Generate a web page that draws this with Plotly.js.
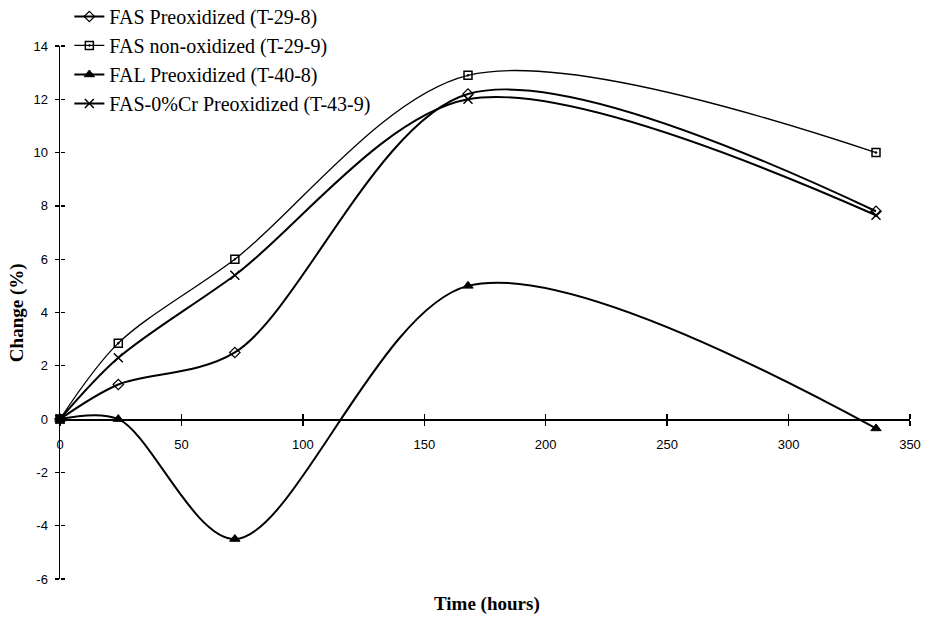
<!DOCTYPE html>
<html>
<head>
<meta charset="utf-8">
<script src="https://cdn.plot.ly/plotly-3.0.1.min.js"></script>
<style>html,body{margin:0;padding:0;background:#fff;}#chart{width:925px;height:621px;}</style>
</head>
<body>
<div id="chart"></div>
<script>
const timeHours = [0, 24, 72, 168, 336];
const fasPreox = [0, 1.3, 2.5, 12.2, 7.8];
const fasNonOx = [0, 2.85, 6.0, 12.9, 10.0];
const falPreox = [0, 0, -4.5, 5.0, -0.35];
const fas0CrPreox = [0, 2.3, 5.4, 12.0, 7.65];
const seriesNames = ["FAS Preoxidized (T-29-8)", "FAS non-oxidized (T-29-9)", "FAL Preoxidized (T-40-8)", "FAS-0%Cr Preoxidized (T-43-9)"];
const xTicks = [0, 50, 100, 150, 200, 250, 300, 350];
const yTicks = [-6, -4, -2, 0, 2, 4, 6, 8, 10, 12, 14];

function tr(y, name, sym, size, lw, mlw) {
  return {
    x: timeHours, y: y, name: name, type: 'scatter', mode: 'lines+markers',
    line: {color: '#000', width: lw, shape: 'spline', smoothing: 0.9},
    marker: {symbol: sym, size: size, color: '#000', line: {color: '#000', width: mlw}},
    cliponaxis: false
  };
}
const data = [
  tr(fasPreox, seriesNames[0], 'diamond-open', 8, 2, 1.2),
  tr(fasNonOx, seriesNames[1], 'square-open-dot', 8, 1.3, 1.5),
  tr(falPreox, seriesNames[2], 'triangle-up', 9, 2, 1),
  tr(fas0CrPreox, seriesNames[3], 'x-thin-open', 9, 2, 1.5)
];
const tickFont = {family: 'Liberation Sans, Arial, sans-serif', size: 13, color: '#000'};
const layout = {
  width: 925, height: 621,
  margin: {l: 60, r: 15, t: 46, b: 42, autoexpand: false},
  paper_bgcolor: '#fff', plot_bgcolor: 'rgba(0,0,0,0)',
  showlegend: true,
  legend: {x: 0.011, y: 1.092, xanchor: 'left', yanchor: 'top', bgcolor: 'rgba(255,255,255,0)',
    font: {family: 'Liberation Serif, Times New Roman, serif', size: 20, color: '#000'},
    tracegroupgap: 0},
  xaxis: {range: [0, 350], tickvals: xTicks, ticktext: xTicks.map(String),
    anchor: 'free', position: 0.3, showline: true, linecolor: '#000', linewidth: 1.5,
    ticks: 'outside', ticklen: 5, tickwidth: 1.3, tickcolor: '#000', showgrid: false, zeroline: false,
    tickfont: tickFont, ticklabelstandoff: 8},
  xaxis2: {range: [0, 350], tickvals: xTicks, overlaying: 'x', anchor: 'free', position: 0.3, side: 'top',
    showline: false, ticks: 'outside', ticklen: 5, tickwidth: 1.3, tickcolor: '#000',
    showticklabels: false, showgrid: false, zeroline: false},
  yaxis: {range: [-6, 14], tickvals: yTicks, ticktext: yTicks.map(String),
    showline: true, linecolor: '#000', linewidth: 1.5, ticks: 'outside', ticklen: 4, tickwidth: 1.3,
    tickcolor: '#000', showgrid: false, zeroline: false, tickfont: tickFont, ticklabelstandoff: 4},
  yaxis2: {range: [-6, 14], tickvals: yTicks, overlaying: 'y', anchor: 'free', position: 0, side: 'right',
    ticks: 'outside', ticklen: 4, tickwidth: 1.3, tickcolor: '#000', showticklabels: false,
    showline: false, showgrid: false, zeroline: false},
  annotations: [
    {text: '<b>Time (hours)</b>', xref: 'paper', yref: 'paper', x: 0.502, y: -0.047, xanchor: 'center', yanchor: 'middle',
      showarrow: false, font: {family: 'Liberation Serif, Times New Roman, serif', size: 19, color: '#000'}},
    {text: '<b>Change (%)</b>', xref: 'paper', yref: 'paper', x: -0.051, y: 0.5, xanchor: 'center', yanchor: 'middle',
      textangle: -90, showarrow: false, font: {family: 'Liberation Serif, Times New Roman, serif', size: 19, color: '#000'}}
  ]
};
// invisible trace that activates the secondary (cross-tick) axes
data.push({x: [0], y: [0], xaxis: 'x2', yaxis: 'y2', mode: 'markers', marker: {opacity: 0}, showlegend: false, hoverinfo: 'skip'});
Plotly.newPlot('chart', data, layout, {displayModeBar: false, staticPlot: true});
</script>
</body>
</html>
